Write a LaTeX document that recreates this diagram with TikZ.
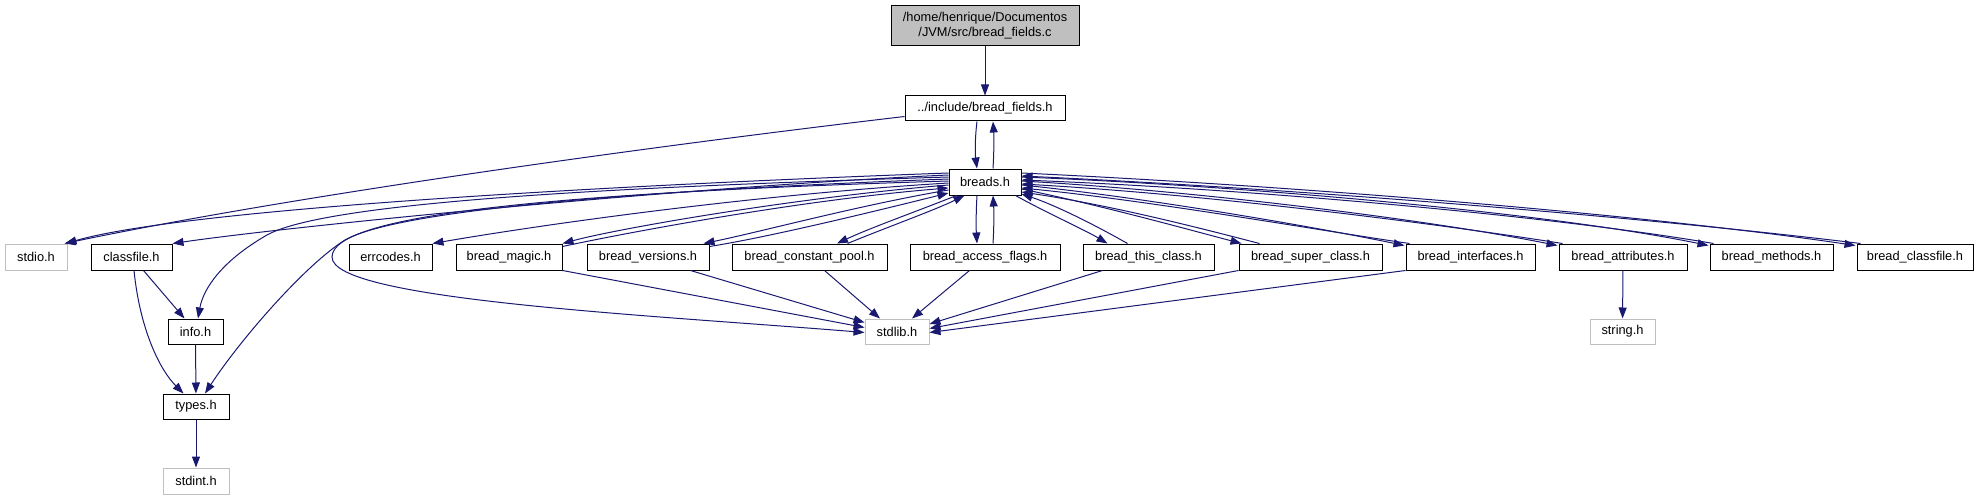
\documentclass[tikz,border=0pt]{standalone}
\usepackage{fontspec}
\setmainfont{Liberation Sans}
\usetikzlibrary{arrows.meta,calc}
\definecolor{edgeblue}{HTML}{191970}
\definecolor{lightgrey}{HTML}{BFBFBF}
\begin{document}
\begin{tikzpicture}[x=1pt,y=-1pt,
  file/.style={draw=black,line width=1pt,fill=white,inner sep=0pt,minimum height=26pt,
    font=\fontsize{12.8}{15}\selectfont,align=center},
  sysfile/.style={file,draw=lightgrey},
  edge/.style={draw=edgeblue,line width=1pt,-{Triangle[length=11pt,width=8pt]}}]
\path[use as bounding box] (0,0) rectangle (1983,500);

% nodes
\node[file,fill=lightgrey,minimum width=188pt,minimum height=40pt] (top) at (985,26) {/home/henrique/Documentos\\/JVM/src/bread\_fields.c};
\node[file,minimum width=160pt,minimum height=25pt] (bfields) at (985,108.5) {../include/bread\_fields.h};
\node[file,minimum width=72pt] (breads) at (985,182) {breads.h};

\node[sysfile,minimum width=62pt] (stdio) at (36,257) {stdio.h};
\node[file,minimum width=81pt] (classfile) at (131.5,257) {classfile.h};
\node[file,minimum width=83pt] (errcodes) at (390.5,257) {errcodes.h};
\node[file,minimum width=106pt] (magic) at (509,257) {bread\_magic.h};
\node[file,minimum width=122pt] (versions) at (648,257) {bread\_versions.h};
\node[file,minimum width=155pt] (cpool) at (809.5,257) {bread\_constant\_pool.h};
\node[file,minimum width=150pt] (aflags) at (985,257) {bread\_access\_flags.h};
\node[file,minimum width=131pt] (thisc) at (1148.5,257) {bread\_this\_class.h};
\node[file,minimum width=143pt] (superc) at (1310.5,257) {bread\_super\_class.h};
\node[file,minimum width=129pt] (interf) at (1470.5,257) {bread\_interfaces.h};
\node[file,minimum width=128pt] (attrib) at (1623,257) {bread\_attributes.h};
\node[file,minimum width=123pt] (methods) at (1771.5,257) {bread\_methods.h};
\node[file,minimum width=116pt] (bclassfile) at (1915,257) {bread\_classfile.h};

\node[file,minimum width=55pt,minimum height=25pt] (info) at (195.5,331.5) {info.h};
\node[file,minimum width=66pt,minimum height=25pt] (types) at (196,406.5) {types.h};
\node[sysfile,minimum width=66pt] (stdint) at (196,481) {stdint.h};
\node[sysfile,minimum width=64pt,minimum height=25pt] (stdlib) at (897,331.5) {stdlib.h};
\node[sysfile,minimum width=65pt,minimum height=25pt] (string) at (1622.5,331.5) {string.h};

% top part
\draw[edge] (top) -- (bfields);
\draw[edge] ($(bfields.south)+(-8,0)$) .. controls +(-2,15) and +(-2,-15) .. ($(breads.north)+(-8,0)$);
\draw[edge] ($(breads.north)+(8,0)$) .. controls +(1,-15) and +(1,15) .. ($(bfields.south)+(8,0)$);
\draw[edge] ($(bfields.south west)+(0,-5)$) .. controls (620,150) and (282,198) .. ($(stdio.north east)+(-3,0)$);

% breads -> left
\draw[edge] ($(breads.west)+(0,-9)$) .. controls (700,182) and (200,205) .. ($(stdio.north east)+(-2,0)$);
\draw[edge] ($(breads.west)+(0,-7)$) .. controls (700,186) and (300,225) .. (classfile.north east);
\draw[edge] ($(breads.west)+(0,-5)$) .. controls (650,186) and (330,200) .. (267,235) .. controls (220,262) and (203,290) .. ($(info.north)+(2.5,0)$);
\draw[edge] ($(breads.west)+(0,-3)$) .. controls (650,190) and (400,209) .. (345,240) .. controls (305,265) and (240,340) .. ($(types.north)+(9,0)$);
\draw[edge] ($(breads.west)+(0,-1)$) .. controls (550,193) and (332,215) .. (332,257) .. controls (332,300) and (650,315) .. ($(stdlib.west)+(0,1)$);
\draw[edge] ($(breads.west)+(0,1)$) .. controls (750,195) and (540,225) .. (errcodes.north east);
\draw[edge] ($(breads.west)+(0,3)$) .. controls (800,197) and (620,228) .. (magic.north east);
\draw[edge] ($(magic.north east)+(0,3)$) .. controls (625,233) and (800,200) .. ($(breads.west)+(0,6)$);
\draw[edge] ($(breads.west)+(0,8)$) .. controls (860,205) and (760,232) .. ($(versions.north east)+(-6,0)$);
\draw[edge] ($(versions.north east)+(0,3)$) .. controls (770,237) and (880,210) .. ($(breads.west)+(0,11)$);
\draw[edge] ($(breads.south west)+(8,0)$) .. controls (915,212) and (870,228) .. ($(cpool.north)+(27.5,0)$);
\draw[edge] ($(cpool.north)+(38,0)$) .. controls (885,228) and (935,210) .. ($(breads.south west)+(16,0)$);

% breads <-> access flags
\draw[edge] ($(breads.south)+(-8,0)$) .. controls +(-1,16) and +(-1,-16) .. ($(aflags.north)+(-8,0)$);
\draw[edge] ($(aflags.north)+(8,0)$) .. controls +(1,-16) and +(1,16) .. ($(breads.south)+(8,0)$);

% breads -> right
\draw[edge] ($(breads.south east)+(-6,0)$) .. controls (1045,212) and (1085,230) .. ($(thisc.north west)+(25,0)$);
\draw[edge] ($(thisc.north west)+(45,0)$) .. controls (1095,225) and (1055,205) .. ($(breads.east)+(0,12)$);
\draw[edge] ($(breads.east)+(0,7)$) .. controls (1100,205) and (1190,230) .. ($(superc.north west)+(3,0)$);
\draw[edge] ($(superc.north west)+(21,0)$) .. controls (1200,228) and (1110,205) .. ($(breads.east)+(0,10)$);
\draw[edge] ($(breads.east)+(0,3)$) .. controls (1150,198) and (1320,228) .. ($(interf.north west)+(-1,2)$);
\draw[edge] ($(interf.north west)+(4,0)$) .. controls (1323,231) and (1153,201) .. ($(breads.east)+(0,6)$);
\draw[edge] ($(breads.east)+(0,-1)$) .. controls (1200,191) and (1430,220) .. ($(attrib.north west)+(-1,2)$);
\draw[edge] ($(attrib.north west)+(4,0)$) .. controls (1433,223) and (1203,194) .. ($(breads.east)+(0,2)$);
\draw[edge] ($(breads.east)+(0,-5)$) .. controls (1250,186) and (1550,213) .. ($(methods.north west)+(-1,2)$);
\draw[edge] ($(methods.north west)+(4,0)$) .. controls (1553,216) and (1253,189) .. ($(breads.east)+(0,-2)$);
\draw[edge] ($(breads.east)+(0,-9)$) .. controls (1300,186) and (1650,215) .. ($(bclassfile.north west)+(-1,2)$);
\draw[edge] ($(bclassfile.north west)+(4,0)$) .. controls (1653,218) and (1303,189) .. ($(breads.east)+(0,-6)$);

% row 2 -> stdlib
\draw[edge] (magic.south east) -- ($(stdlib.west)+(0,-4)$);
\draw[edge] ($(versions.south east)+(-19,0)$) -- ($(stdlib.west)+(0,-9)$);
\draw[edge] ($(cpool.south)+(15,0)$) -- ($(stdlib.north)+(-17,0)$);
\draw[edge] ($(aflags.south west)+(60,0)$) -- ($(stdlib.north)+(15,0)$);
\draw[edge] ($(thisc.south west)+(20,0)$) -- ($(stdlib.east)+(0,-7.5)$);
\draw[edge] (superc.south west) -- ($(stdlib.east)+(0,-3)$);
\draw[edge] (interf.south west) -- ($(stdlib.east)+(0,1)$);
\draw[edge] (attrib) -- (string);

% classfile, info, types
\draw[edge] ($(classfile.south)+(12,0)$) -- ($(info.north west)+(17,0)$);
\draw[edge] ($(classfile.south)+(2.5,0)$) .. controls (140,330) and (160,370) .. ($(types.north west)+(21,0)$);
\draw[edge] (info) -- (types);
\draw[edge] (types) -- (stdint);
\end{tikzpicture}
\end{document}
